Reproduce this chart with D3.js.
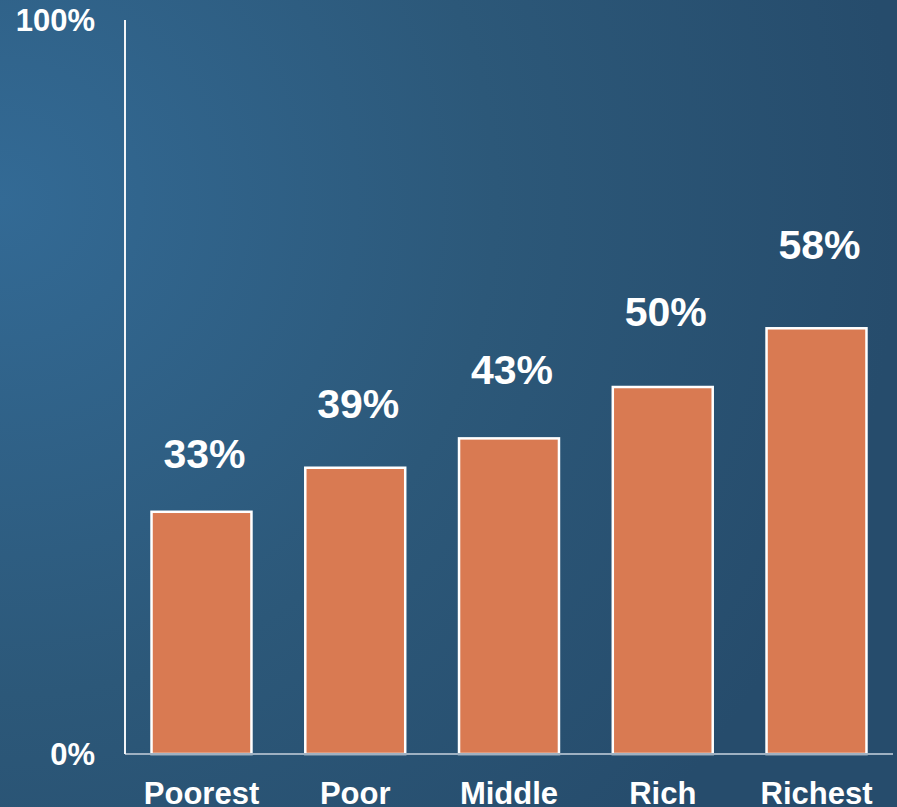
<!DOCTYPE html>
<html>
<head>
<meta charset="utf-8">
<script src="https://cdn.jsdelivr.net/npm/d3@7"></script>
<style>
  html, body { margin: 0; padding: 0; overflow: hidden; }
  svg { display: block; font-family: "Liberation Sans", Arial, sans-serif; }
</style>
</head>
<body>
<script>
// Share by wealth quintile
const categories = ["Poorest", "Poor", "Middle", "Rich", "Richest"];
const values = [33, 39, 43, 50, 58];
const axisTicks = [0, 100];

const W = 897, H = 807;
const margin = { left: 125, right: 4, top: 20, bottom: 54 };

const svg = d3.select("body").append("svg")
  .attr("width", W).attr("height", H);

// Background: soft radial glow from the upper left
const defs = svg.append("defs");
const grad = defs.append("radialGradient")
  .attr("id", "bg")
  .attr("gradientUnits", "userSpaceOnUse")
  .attr("cx", 0).attr("cy", 200).attr("r", 900);
grad.append("stop").attr("offset", "0%").attr("stop-color", "#336a95");
grad.append("stop").attr("offset", "55%").attr("stop-color", "#2c5879");
grad.append("stop").attr("offset", "100%").attr("stop-color", "#264c6c");
svg.append("rect").attr("width", W).attr("height", H).attr("fill", "url(#bg)");

const x = d3.scaleBand()
  .domain(categories)
  .range([margin.left, W - margin.right])
  .paddingInner(0.35)
  .paddingOuter(0.1725);

const y = d3.scaleLinear()
  .domain([0, 100])
  .range([H - margin.bottom + 1, margin.top]);

// Bars
svg.append("g").selectAll("rect")
  .data(values)
  .join("rect")
  .attr("x", (d, i) => x(categories[i]))
  .attr("y", d => y(d))
  .attr("width", x.bandwidth())
  .attr("height", d => y(0) - y(d))
  .attr("fill", "#d97a52")
  .attr("stroke", "#ffffff")
  .attr("stroke-width", 2.5);

// Baseline and vertical axis
svg.append("line")
  .attr("x1", margin.left).attr("x2", W - margin.right)
  .attr("y1", y(0)).attr("y2", y(0))
  .attr("stroke", "#9fb1c2").attr("stroke-width", 2);
svg.append("line")
  .attr("x1", margin.left).attr("x2", margin.left)
  .attr("y1", y(100)).attr("y2", y(0))
  .attr("stroke", "#f2f4f7").attr("stroke-width", 2);

// Y tick labels
svg.append("g").selectAll("text")
  .data(axisTicks)
  .join("text")
  .attr("x", 95)
  .attr("y", d => y(d))
  .attr("dy", "0.36em")
  .attr("text-anchor", "end")
  .attr("fill", "#ffffff")
  .attr("font-weight", "bold")
  .attr("font-size", 31)
  .text(d => d + "%");

// Value labels: the gap above each bar widens a little for taller bars
svg.append("g").selectAll("text")
  .data(values)
  .join("text")
  .attr("x", (d, i) => x(categories[i]) + x.bandwidth() / 2 + 3)
  .attr("y", d => y(d) - (11 + d))
  .attr("text-anchor", "middle")
  .attr("fill", "#ffffff")
  .attr("font-weight", "bold")
  .attr("font-size", 41)
  .text(d => d + "%");

// Category labels
svg.append("g").selectAll("text")
  .data(categories)
  .join("text")
  .attr("x", d => x(d) + x.bandwidth() / 2)
  .attr("y", 804)
  .attr("text-anchor", "middle")
  .attr("fill", "#ffffff")
  .attr("font-weight", "bold")
  .attr("font-size", 31)
  .text(d => d);
</script>
</body>
</html>
